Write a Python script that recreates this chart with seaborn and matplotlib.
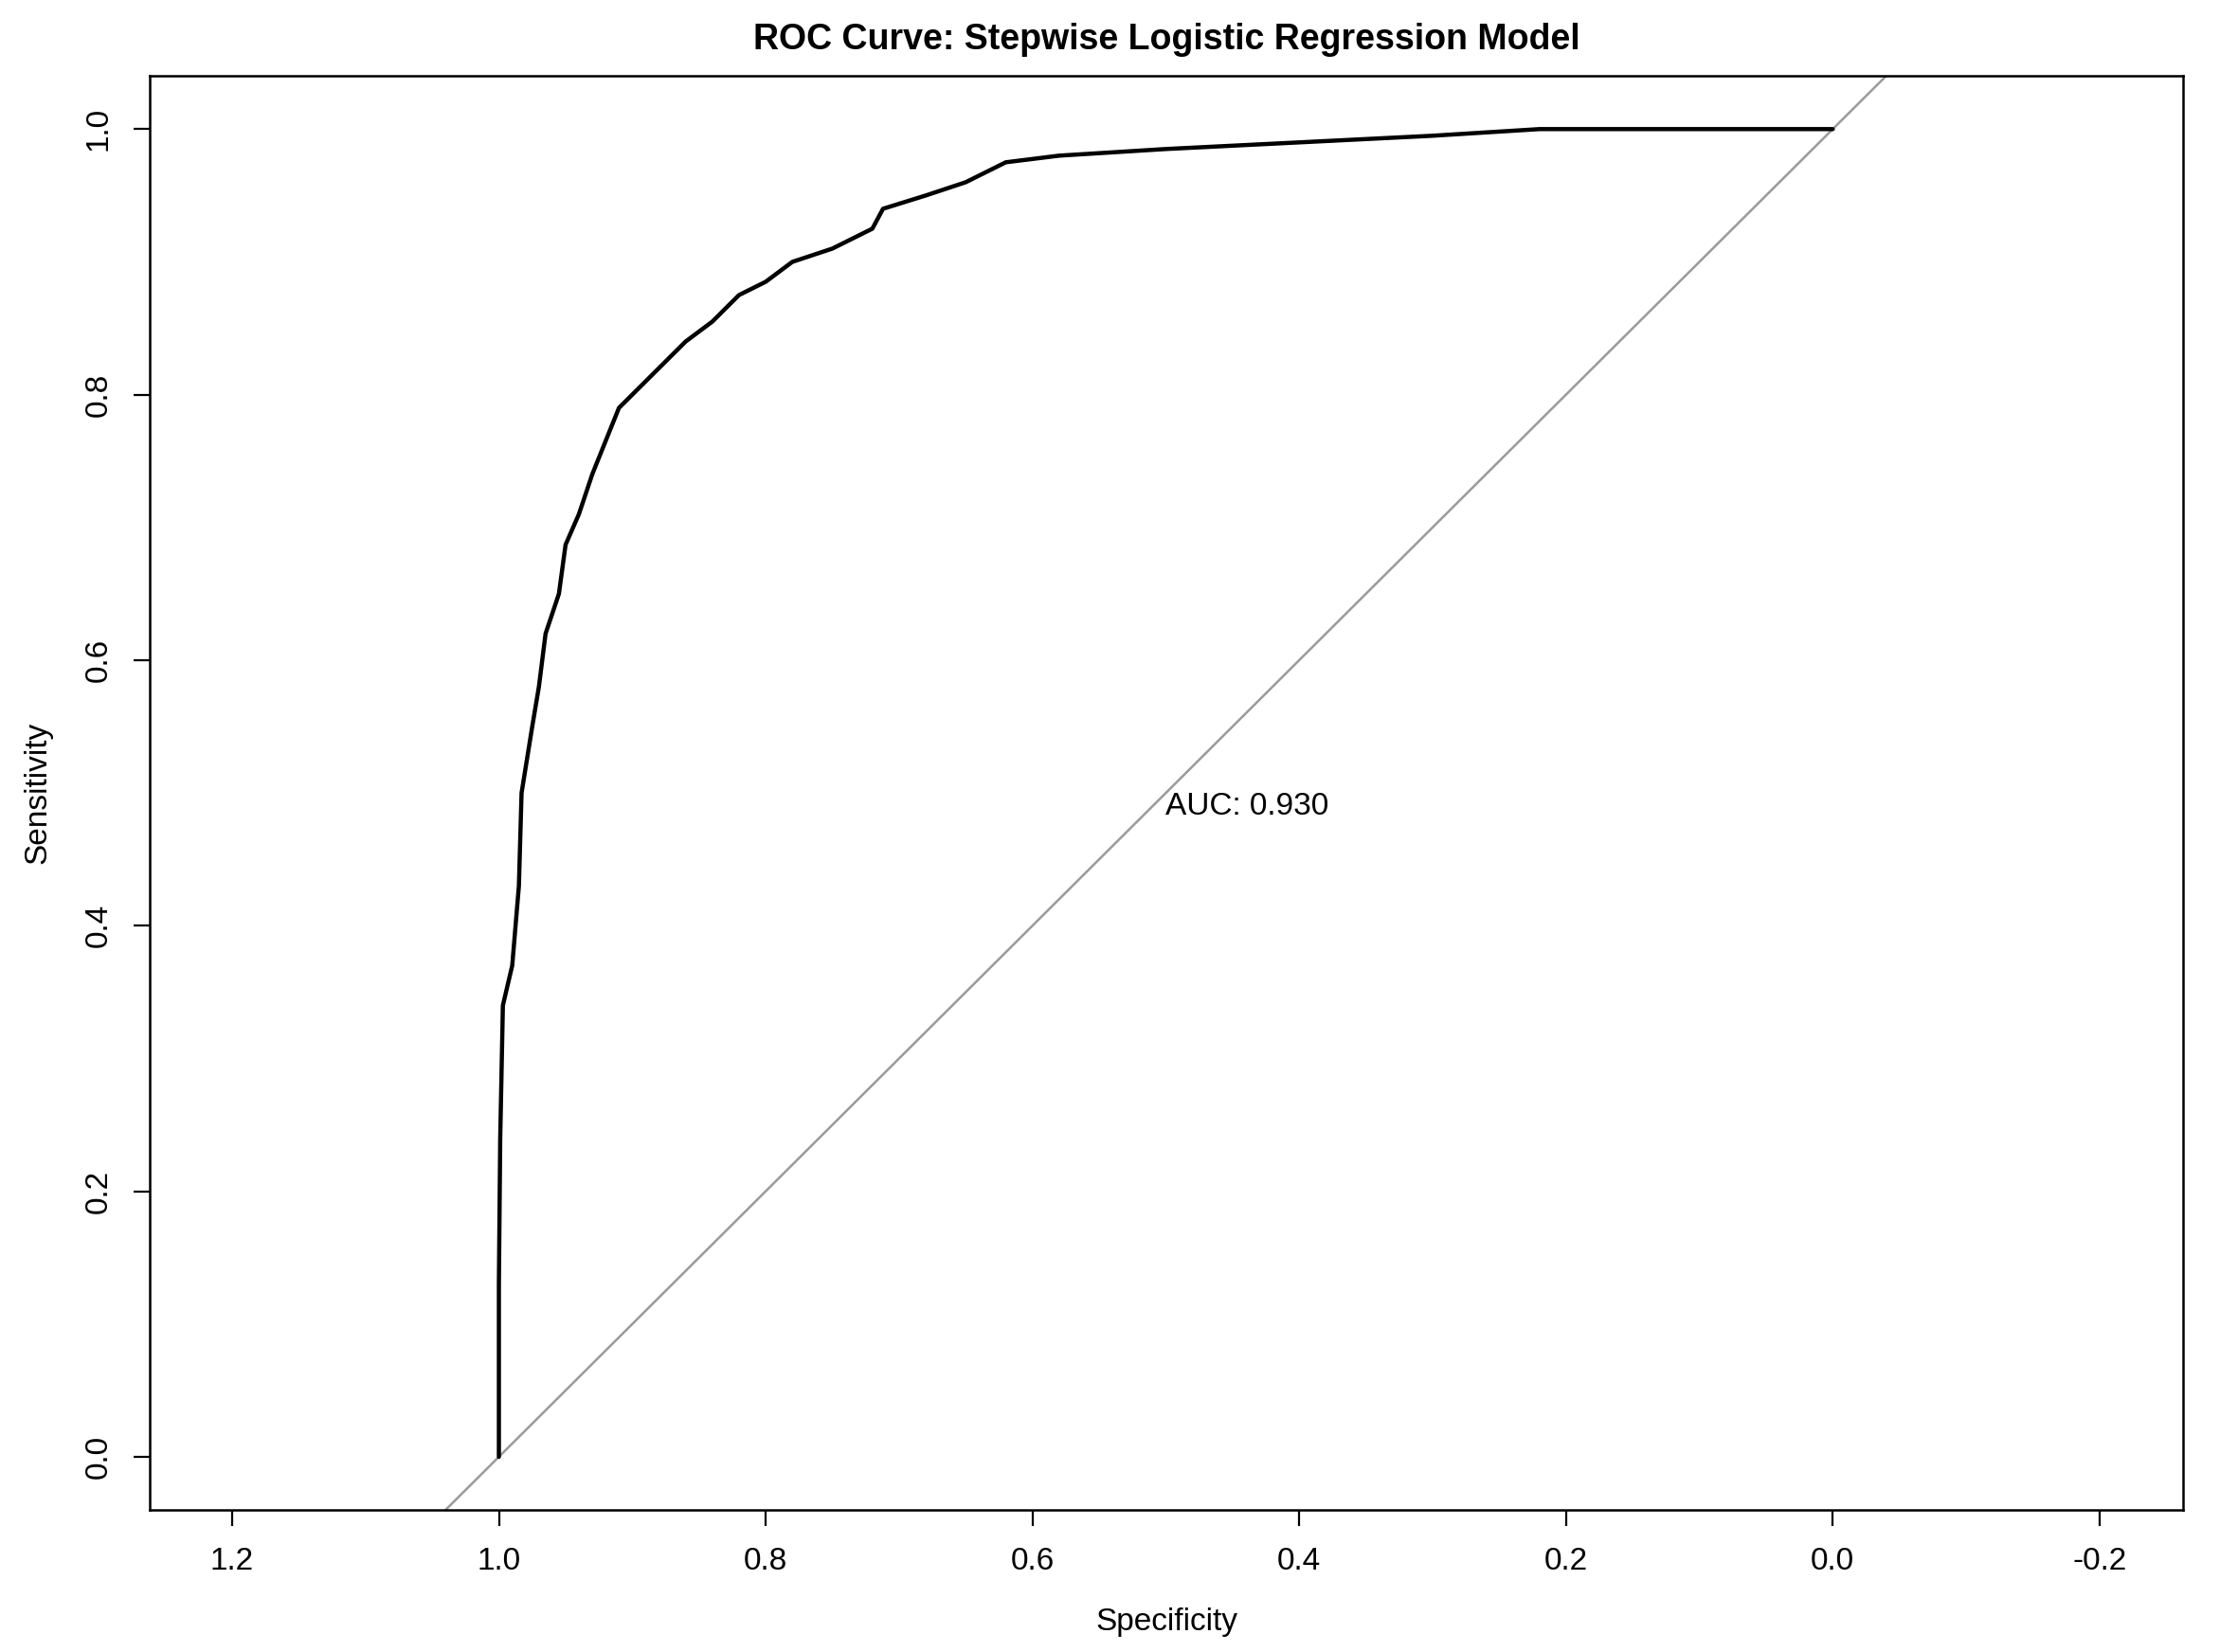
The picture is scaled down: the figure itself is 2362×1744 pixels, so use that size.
import numpy as np
import pandas as pd
import seaborn as sns
import matplotlib
matplotlib.use("Agg")
import matplotlib.pyplot as plt

# ROC points
specificity = [1.0, 1.0, 0.999, 0.997, 0.99, 0.985, 0.983, 0.975, 0.97, 0.965, 0.955, 0.95,
               0.94, 0.93, 0.92, 0.91, 0.90, 0.88, 0.86, 0.84, 0.82, 0.80, 0.78, 0.75,
               0.72, 0.712, 0.68, 0.65, 0.62, 0.58, 0.50, 0.40, 0.30, 0.22, 0.0]
sensitivity = [0.0, 0.13, 0.24, 0.34, 0.37, 0.43, 0.50, 0.55, 0.58, 0.62, 0.65, 0.687,
               0.71, 0.74, 0.765, 0.79, 0.80, 0.82, 0.84, 0.855, 0.875, 0.885, 0.90, 0.91,
               0.925, 0.94, 0.95, 0.96, 0.975, 0.98, 0.985, 0.99, 0.995, 1.0, 1.0]
auc_label = "AUC: 0.930"

sns.set_style("ticks")
plt.rcParams['font.family'] = ['Liberation Sans', 'DejaVu Sans']
plt.rcParams['text.color'] = 'black'
plt.rcParams['axes.labelcolor'] = 'black'
plt.rcParams['xtick.color'] = 'black'
plt.rcParams['ytick.color'] = 'black'
plt.rcParams['axes.edgecolor'] = 'black'

df = pd.DataFrame({"spec": specificity, "sens": sensitivity})

fig = plt.figure(figsize=(11.81, 8.72), dpi=200)
ax = fig.add_axes([0.067, 0.086, 0.9085, 0.868])

diag = np.array([-0.3, 1.3])
sns.lineplot(x=diag, y=1 - diag, color="#9a9a9a", linewidth=0.9, ax=ax)
sns.lineplot(data=df, x="spec", y="sens", sort=False, estimator=None,
             color="black", linewidth=1.6, ax=ax)

ax.text(0.5, 0.49, auc_label, ha="left", va="center", fontsize=12, color="black")

ax.set_xlim(1.2616, -0.2627)
ax.set_ylim(-0.04, 1.04)
ax.set_xticks([1.2, 1.0, 0.8, 0.6, 0.4, 0.2, 0.0, -0.2])
ax.set_xticklabels(["1.2", "1.0", "0.8", "0.6", "0.4", "0.2", "0.0", "-0.2"])
ax.set_yticks([0.0, 0.2, 0.4, 0.6, 0.8, 1.0])
ax.set_yticklabels(["0.0", "0.2", "0.4", "0.6", "0.8", "1.0"], rotation=90, va="center")
ax.tick_params(labelsize=12, length=6, pad=8)
for s in ax.spines.values():
    s.set_visible(True)
    s.set_linewidth(0.9)
ax.set_xlabel("Specificity", fontsize=12, labelpad=12)
ax.set_ylabel("Sensitivity", fontsize=12, labelpad=12)
ax.set_title("ROC Curve: Stepwise Logistic Regression Model", fontsize=13.5,
             fontweight="bold", pad=10)

fig.savefig("out.png", dpi=200)
